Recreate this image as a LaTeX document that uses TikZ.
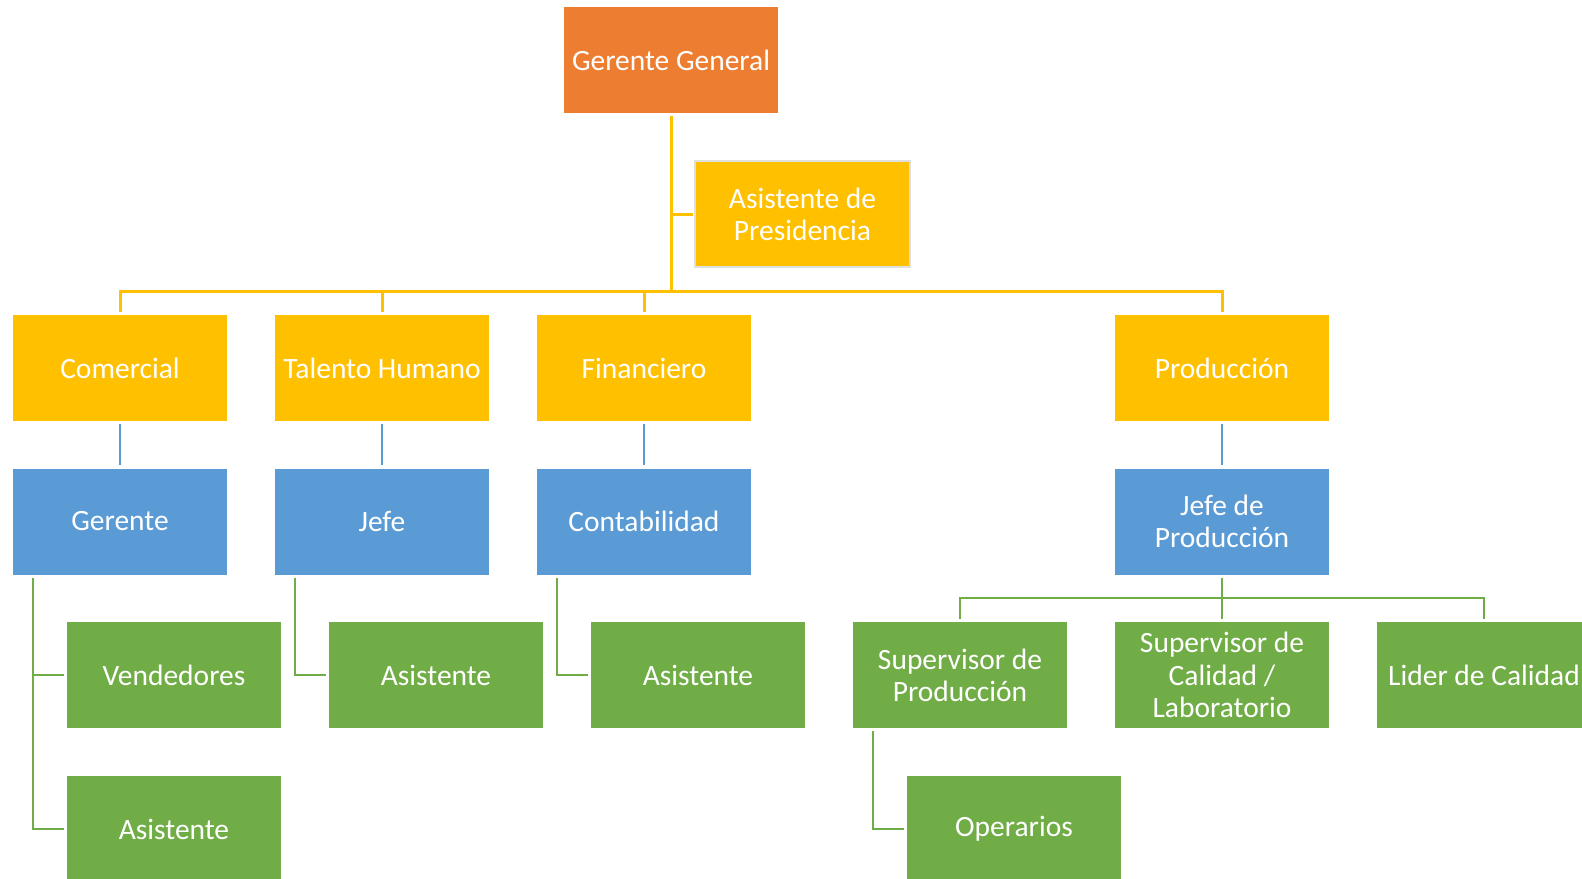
\documentclass[tikz,border=0pt]{standalone}
\usepackage{fontspec}
\setmainfont{Carlito}
\definecolor{orgc}{HTML}{ED7D31}
\definecolor{gldc}{HTML}{FFC000}
\definecolor{bluc}{HTML}{5B9BD5}
\definecolor{grnc}{HTML}{70AD47}
\tikzset{
  box/.style={rectangle, minimum width=214bp, minimum height=106bp, inner sep=0pt,
    text=white, align=center, font=\fontsize{29.6}{32.3}\selectfont},
  ybox/.style={box, fill=gldc},
  bbox/.style={box, fill=bluc},
  gbox/.style={box, fill=grnc},
  yl/.style={draw=gldc, line width=3bp},
  bl/.style={draw=bluc, line width=2.5bp},
  gl/.style={draw=grnc, line width=2.5bp},
}
\begin{document}
\begin{tikzpicture}[x=1bp, y=-1bp]
\clip (0,0) rectangle (1582,878);
\fill[white] (0,0) rectangle (1582,878);
% nodes
\node[box, fill=orgc] (gg) at (671,60) {Gerente General};
\node[box, fill=gldc, draw=gray!25, line width=1.5bp, minimum width=215bp, minimum height=106bp] (ap) at (802.5,214) {Asistente de\\Presidencia};
\node[ybox] (com) at (120,368) {Comercial};
\node[ybox] (th) at (382,368) {Talento Humano};
\node[ybox] (fin) at (644,368) {Financiero};
\node[ybox] (prod) at (1222,368) {Producción};
\node[bbox] (ger) at (120,521.5) {Gerente};
\node[bbox] (jefe) at (382,521.5) {Jefe};
\node[bbox] (cont) at (644,521.5) {Contabilidad};
\node[bbox] (jp) at (1222,521.5) {Jefe de\\Producción};
\node[gbox] (ven) at (174,675) {Vendedores};
\node[gbox] (asth) at (436,675) {Asistente};
\node[gbox] (asf) at (698,675) {Asistente};
\node[gbox] (sp) at (960,675) {Supervisor de\\Producción};
\node[gbox] (sc) at (1222,675) {Supervisor de\\Calidad /\\Laboratorio};
\node[gbox] (lc) at (1484,675) {Lider de Calidad};
\node[gbox] (asc) at (174,829) {Asistente};
\node[gbox] (op) at (1014,829) {Operarios};
\coordinate (bus) at (671,291);
\coordinate (gbus) at (1222,598);
% yellow connectors
\draw[yl] ([yshift=-3bp]gg.south) -- (bus);
\draw[yl] (gg.south |- ap.west) -- ([xshift=-1bp]ap.west);
\draw[yl] ([yshift=3bp]com.north) -- (com.north |- bus) -- (prod.north |- bus) -- ([yshift=3bp]prod.north);
\draw[yl] (th.north |- bus) -- ([yshift=3bp]th.north);
\draw[yl] (fin.north |- bus) -- ([yshift=3bp]fin.north);
% blue connectors
\draw[bl] ([yshift=-3bp]com.south) -- ([yshift=3bp]ger.north);
\draw[bl] ([yshift=-3bp]th.south) -- ([yshift=3bp]jefe.north);
\draw[bl] ([yshift=-3bp]fin.south) -- ([yshift=3bp]cont.north);
\draw[bl] ([yshift=-3bp]prod.south) -- ([yshift=3bp]jp.north);
% green connectors
\draw[gl] ([xshift=20bp,yshift=-3bp]ger.south west) |- ([xshift=-3bp]asc.west);
\draw[gl] ([xshift=20bp]ger.south west |- ven.west) -- ([xshift=-3bp]ven.west);
\draw[gl] ([xshift=20bp,yshift=-3bp]jefe.south west) |- ([xshift=-3bp]asth.west);
\draw[gl] ([xshift=20bp,yshift=-3bp]cont.south west) |- ([xshift=-3bp]asf.west);
\draw[gl] ([xshift=20bp,yshift=-3bp]sp.south west) |- ([xshift=-3bp]op.west);
\draw[gl] ([yshift=-3bp]jp.south) -- (gbus);
\draw[gl] ([yshift=3bp]sp.north) -- (sp.north |- gbus) -- (lc.north |- gbus) -- ([yshift=3bp]lc.north);
\draw[gl] (gbus) -- ([yshift=3bp]sc.north);
\end{tikzpicture}
\end{document}
